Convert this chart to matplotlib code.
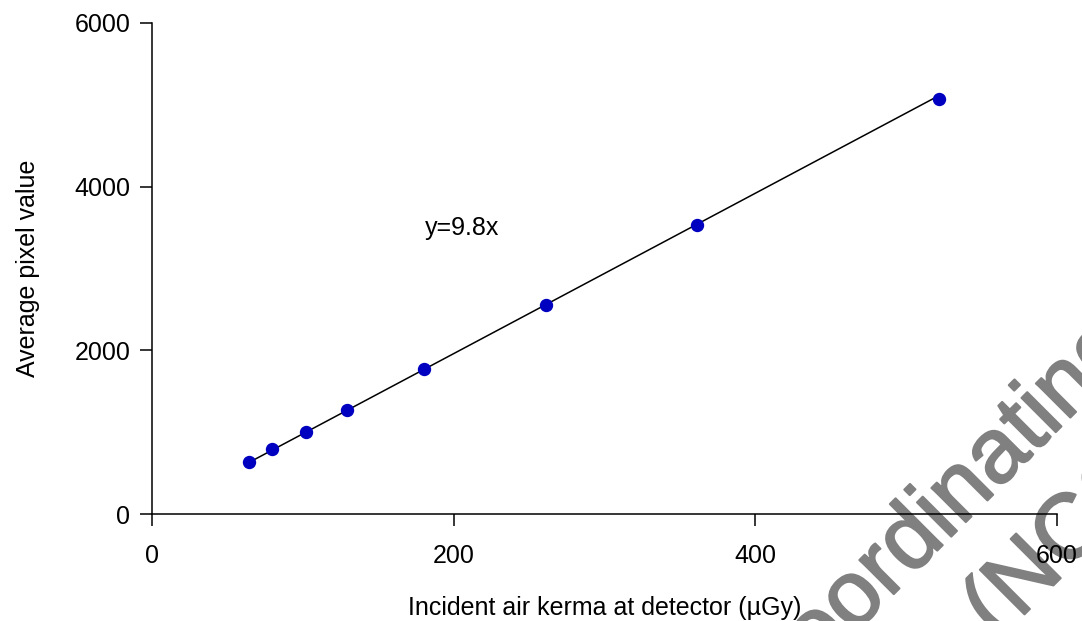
import matplotlib.pyplot as plt
import matplotlib.patheffects as pe
import numpy as np

plt.rcParams['font.family'] = ['Liberation Sans', 'DejaVu Sans']

kerma = [64.5, 79.5, 102, 129, 180.5, 261, 361, 521.5]
pixel = [636, 795, 1002, 1271, 1773, 2555, 3533, 5073]
slope = 9.8
xticks = [0, 200, 400, 600]
yticks = [0, 2000, 4000, 6000]

fig = plt.figure(figsize=(10.82, 6.21), dpi=100)
ax = fig.add_axes([0.1405, 0.1723, 0.8365, 0.7907])
ax.patch.set_alpha(0)

xfit = np.array([kerma[0], kerma[-1]])
ax.plot(xfit, slope * xfit, color='black', lw=1.1, zorder=2)
ax.plot(kerma, pixel, 'o', color='#0000c0', markersize=8.6, zorder=3)
ax.text(181, 3500, 'y=9.8x', fontsize=18, va='center', ha='left')

ax.set_xlim(0, 600)
ax.set_ylim(0, 6000)
ax.set_xticks(xticks)
ax.set_yticks(yticks)
ax.tick_params(direction='out', length=8.5, width=1.1, labelsize=18)
ax.tick_params(axis='x', pad=13)
ax.tick_params(axis='y', pad=7)
for s in ['top', 'right']:
    ax.spines[s].set_visible(False)
for s in ['left', 'bottom']:
    ax.spines[s].set_linewidth(1.1)
ax.set_xlabel('Incident air kerma at detector (µGy)', fontsize=18)
ax.set_ylabel('Average pixel value', fontsize=18)
ax.xaxis.set_label_coords(0.5, -0.168)
ax.yaxis.set_label_coords(-0.124, 0.5)

# watermark, sits behind the chart
wm = dict(fontsize=66, color='#808080', rotation=45,
          rotation_mode='anchor', ha='left', va='baseline', zorder=-1,
          path_effects=[pe.withStroke(linewidth=1.5, foreground='#808080')])
fig.text(0.712, -0.1554, 'Coordinating', **wm)
fig.text(0.922, -0.0326, '(NCC', **wm)

fig.savefig('out.png', dpi=100)
